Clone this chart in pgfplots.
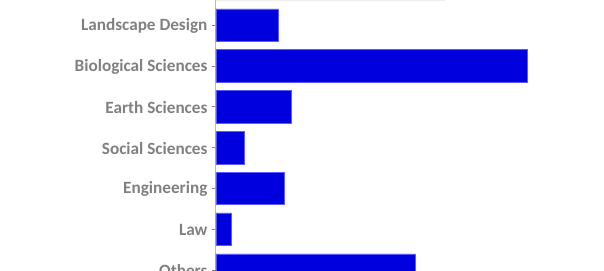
\documentclass[border=0pt]{standalone}
\usepackage{pgfplots}
\pgfplotsset{compat=1.18}
\usepackage{fontspec}
\setmainfont{Carlito}
\definecolor{barblue}{RGB}{0,0,222}
\definecolor{baredge}{RGB}{90,90,255}
\definecolor{labelgray}{RGB}{128,128,128}
\definecolor{axisgray}{RGB}{190,185,175}

\begin{document}
\begin{tikzpicture}
\begin{axis}[
  scale only axis,
  width=388pt, height=270pt,
  xmin=0, xmax=388,
  ymin=0.385, ymax=7.0,
  y dir=reverse,
  axis x line=none,
  axis y line*=left,
  y axis line style={draw=axisgray, line width=1pt, -},
  ytick={1,2,3,4,5,6,7},
  yticklabels={Landscape Design,Biological Sciences,Earth Sciences,Social Sciences,Engineering,Law,Others},
  yticklabel style={font=\fontsize{17.2}{19}\selectfont\bfseries, text=labelgray, xshift=-1pt, yshift=-1pt},
  ytick style={draw=labelgray, line width=0.6pt},
  tick align=outside,
  major tick length=4pt,
  xbar, bar width=32.5pt, bar shift=0pt,
  clip=true,
]
  % faint bar of the category above the visible range
  \addplot[fill=gray!15, draw=none] coordinates {(229,0)};
  \addplot[fill=barblue, draw=baredge, line width=0.5pt] coordinates {
    (62,1) (311,2) (75,3) (28,4) (68,5) (15,6) (199,7)
  };
  \coordinate (sw) at (rel axis cs:0,1);
  \coordinate (ne) at (rel axis cs:1,0);
\end{axis}
\pgfresetboundingbox
\useasboundingbox ([xshift=-216pt]sw) rectangle (ne);
\end{tikzpicture}
\end{document}
